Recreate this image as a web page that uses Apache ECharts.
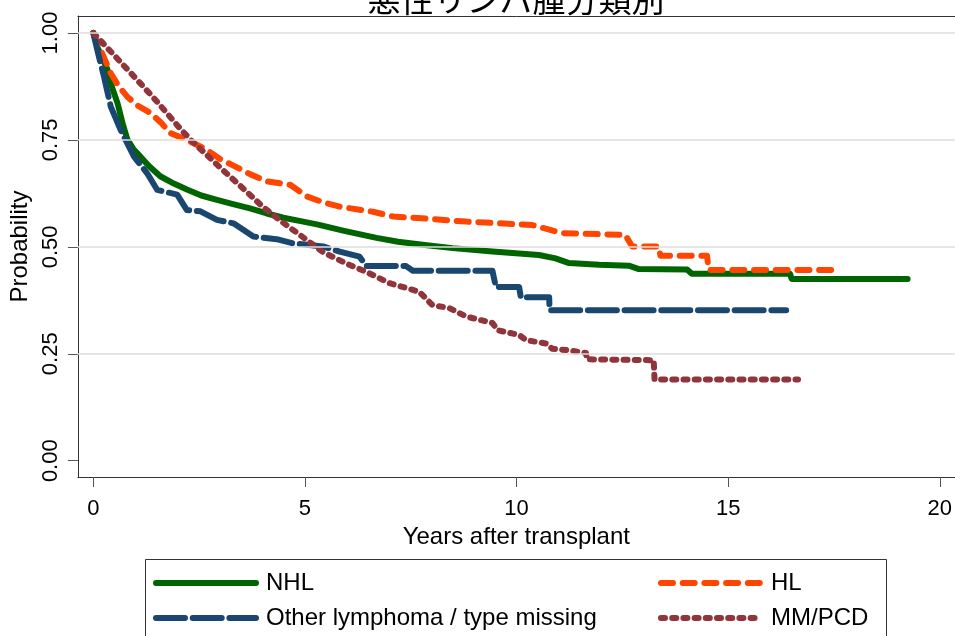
<!DOCTYPE html>
<html>
<head>
<meta charset="utf-8">
<script src="https://cdn.jsdelivr.net/npm/echarts@6/dist/echarts.min.js"></script>
<style>
html,body{margin:0;padding:0;background:#fff;}
#chart{width:955px;height:636px;}
</style>
</head>
<body>
<div id="chart"></div>
<script>
// ---- data (years after transplant, survival probability) ----
const chartTitle = '悪性リンパ腫分類別';
const seriesNames = ['NHL', 'HL', 'Other lymphoma / type missing', 'MM/PCD'];
const xTicks = [0, 5, 10, 15, 20];
const yTicks = [0, 0.25, 0.5, 0.75, 1];
const gridValues = [0.25, 0.5, 0.75, 1];

const nhlData = [[0,1],[0.1,0.965],[0.2,0.945],[0.33,0.915],[0.45,0.87],[0.57,0.836],[0.7,0.785],[0.8,0.752],[0.95,0.728],[1.11,0.711],[1.3,0.69],[1.58,0.665],[1.9,0.648],[2.21,0.634],[2.55,0.62],[2.92,0.610],[3.3,0.600],[3.7,0.590],[4.1,0.578],[4.49,0.568],[4.9,0.560],[5.31,0.552],[5.9,0.538],[6.69,0.521],[7.2,0.512],[7.78,0.505],[8.49,0.497],[9.43,0.489],[10.53,0.481],[10.92,0.473],[11.24,0.462],[11.95,0.458],[12.65,0.456],[12.89,0.448],[14.03,0.447],[14.14,0.437],[16.46,0.437],[16.5,0.425],[19.24,0.425]];

const hlData = [[0,1],[0.17,0.961],[0.41,0.906],[0.6,0.875],[0.8,0.851],[1.05,0.83],[1.35,0.813],[1.6,0.79],[1.82,0.766],[2.21,0.75],[2.68,0.727],[3.0,0.705],[3.31,0.69],[3.7,0.67],[4.1,0.653],[4.65,0.645],[5.04,0.618],[5.4,0.605],[5.82,0.594],[6.61,0.582],[7.08,0.571],[8.0,0.565],[8.81,0.559],[10.37,0.551],[11.08,0.532],[12.57,0.528],[12.73,0.501],[13.36,0.501],[13.4,0.479],[14.5,0.479],[14.54,0.446],[17.48,0.446]];

const otherData = [[0,1],[0.09,0.961],[0.25,0.898],[0.41,0.828],[0.64,0.774],[0.96,0.711],[1.27,0.672],[1.51,0.633],[1.98,0.622],[2.21,0.586],[2.53,0.583],[2.92,0.563],[3.31,0.555],[3.78,0.524],[4.33,0.518],[4.72,0.508],[5.43,0.501],[5.82,0.489],[6.29,0.477],[6.45,0.455],[7.39,0.455],[7.55,0.444],[9.43,0.444],[9.51,0.406],[10.06,0.406],[10.1,0.382],[10.77,0.382],[10.78,0.352],[16.37,0.352]];

const mmData = [[0,1],[0.5,0.947],[1,0.894],[1.5,0.84],[2,0.782],[2.3,0.75],[3,0.685],[3.5,0.64],[4,0.594],[4.41,0.562],[5,0.519],[5.42,0.488],[6,0.46],[6.46,0.441],[7.0,0.415],[7.7,0.395],[8.01,0.364],[8.41,0.357],[8.81,0.337],[9.43,0.322],[9.55,0.305],[10.06,0.294],[10.22,0.282],[10.69,0.274],[10.84,0.262],[11.24,0.258],[11.64,0.252],[11.66,0.237],[13.24,0.235],[13.26,0.19],[16.65,0.19]];

const colors = ['#006400', '#FF4500', '#1A476F', '#8F353B'];
const dashes = ['solid', [12, 9.7], [29, 7.7], [4, 7.2]];
const allData = [nhlData, hlData, otherData, mmData];

const FONT = '"Liberation Sans", Arial, sans-serif';
const LW = 6;

const chart = echarts.init(document.getElementById('chart'), null, {renderer: 'canvas'});

const lineSeries = seriesNames.map((name, i) => ({
  name: name,
  type: 'line',
  data: allData[i],
  xAxisIndex: 0,
  showSymbol: false,
  symbol: 'none',
  z: 3,
  itemStyle: {color: colors[i]},
  lineStyle: {color: colors[i], width: LW, type: dashes[i], cap: 'round', join: 'round'},
  emphasis: {disabled: true}
}));

const gridSeries = {
  name: 'grid',
  type: 'line',
  data: [],
  xAxisIndex: 0,
  z: 1,
  silent: true,
  markLine: {
    silent: true,
    symbol: ['none', 'none'],
    label: {show: false},
    lineStyle: {color: '#DCDCDC', width: 1.5, type: 'solid'},
    emphasis: {disabled: true},
    data: gridValues.map(v => ({yAxis: v}))
  }
};

function legendAt(name, left, top) {
  return {
    data: [name],
    left: left, top: top,
    padding: 0,
    itemWidth: 100, itemHeight: 14,
    selectedMode: false,
    itemStyle: {opacity: 0, borderWidth: 0},
    lineStyle: {width: LW, cap: 'round'},
    textStyle: {fontSize: 24, color: '#000', fontFamily: FONT, padding: [0, 0, 0, 5]}
  };
}

const xMin = -0.366, xMax = 20.354;

const option = {
  animation: false,
  backgroundColor: '#fff',
  grid: {left: 77, top: 16, width: 878, height: 461, show: false, containLabel: false},
  xAxis: [{
    type: 'value', min: xMin, max: xMax, position: 'bottom',
    name: 'Years after transplant', nameLocation: 'middle', nameGap: 45,
    nameTextStyle: {fontSize: 24, color: '#000', fontFamily: FONT},
    axisLine: {show: true, onZero: false, lineStyle: {color: '#333', width: 1}},
    axisTick: {show: true, customValues: xTicks, length: 10, lineStyle: {color: '#555', width: 1}},
    axisLabel: {show: true, customValues: xTicks, fontSize: 22, color: '#000', fontFamily: FONT, margin: 21},
    splitLine: {show: false}
  }, {
    type: 'value', min: xMin, max: xMax, position: 'top',
    axisLine: {show: true, onZero: false, lineStyle: {color: '#333', width: 1}},
    axisTick: {show: false}, axisLabel: {show: false}, splitLine: {show: false}
  }],
  yAxis: {
    type: 'value', min: -0.0381, max: 1.0397,
    name: 'Probability', nameLocation: 'middle', nameGap: 39, nameRotate: 90,
    nameTextStyle: {fontSize: 24, color: '#000', fontFamily: FONT},
    axisLine: {show: true, onZero: false, lineStyle: {color: '#333', width: 1}},
    axisTick: {show: true, customValues: yTicks, length: 10, lineStyle: {color: '#555', width: 1}},
    axisLabel: {show: true, customValues: yTicks, rotate: 90, fontSize: 22, color: '#000', fontFamily: FONT, margin: 16,
      formatter: v => Number(v).toFixed(2)},
    splitLine: {show: false}
  },
  legend: [
    legendAt(seriesNames[0], 153, 571),
    legendAt(seriesNames[1], 658, 571),
    legendAt(seriesNames[2], 153, 606),
    legendAt(seriesNames[3], 658, 606)
  ],
  graphic: [
    {type: 'text', x: 516, y: -1, silent: true,
      style: {text: chartTitle, fontSize: 33, fontFamily: '"Noto Sans CJK JP", sans-serif', fill: '#000', align: 'center', verticalAlign: 'middle'}},
    {type: 'rect', silent: true, shape: {x: 145.5, y: 559.5, width: 741, height: 120},
      style: {fill: 'none', stroke: '#333', lineWidth: 1}}
  ],
  series: [gridSeries].concat(lineSeries)
};

chart.setOption(option);
</script>
</body>
</html>
